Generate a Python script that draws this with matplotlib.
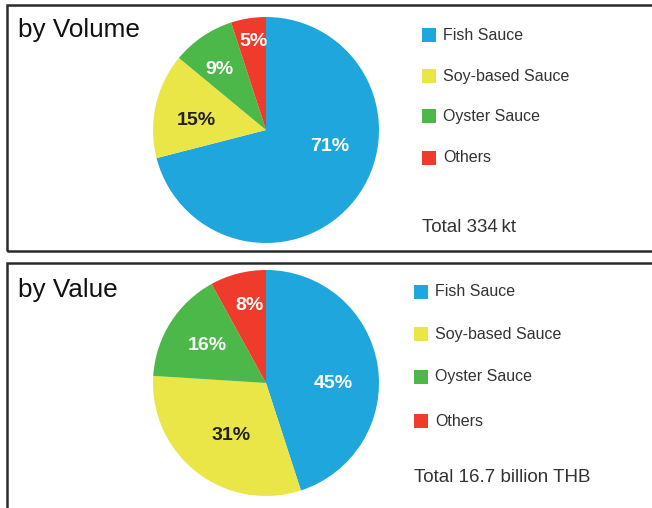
import matplotlib.pyplot as plt
from matplotlib.patches import Rectangle

categories = ["Fish Sauce", "Soy-based Sauce", "Oyster Sauce", "Others"]
volume_share = [71, 15, 9, 5]
value_share = [45, 31, 16, 8]
volume_title = "by Volume"
value_title = "by Value"
volume_total = "Total 334\u2009kt"
value_total = "Total 16.7 billion THB"

colors = ["#1fa7dd", "#ebe648", "#4cb84a", "#ee3b2c"]
label_colors = ["white", "#222222", "white", "white"]

W, H = 652, 508
R = 113  # pie radius in px

plt.rcParams['font.family'] = ['Liberation Sans', 'DejaVu Sans']

fig = plt.figure(figsize=(W / 100, H / 100), dpi=100)


def fx(px):
    return px / W


def fy(py):
    return 1 - py / H


def panel(box_top, box_bottom, title, title_y, shares, total, cx, cy,
          label_pos, leg_x, leg_rows, total_y):
    # frame of the panel (open on the right / bottom edges of the image)
    fig.add_artist(Rectangle((fx(7), fy(box_bottom)), fx(700),
                             (box_bottom - box_top) / H,
                             transform=fig.transFigure, fill=False,
                             lw=1.8, ec="#2a2a2a"))
    fig.text(fx(18), fy(title_y), title, fontsize=18.8, color="#111111",
             va="center", ha="left")

    ax = fig.add_axes([fx(cx - 1.1 * R), fy(cy + 1.1 * R),
                       2.2 * R / W, 2.2 * R / H])
    ax.pie(shares, colors=colors, startangle=90, counterclock=False,
           radius=1, wedgeprops=dict(linewidth=0))
    ax.set_xlim(-1.1, 1.1)
    ax.set_ylim(-1.1, 1.1)
    ax.axis("off")
    for v, (dx, dy), c in zip(shares, label_pos, label_colors):
        ax.text(dx, dy, f"{v}%", ha="center", va="center", color=c,
                fontsize=14, fontweight="bold")

    for cat, col, ry in zip(categories, colors, leg_rows):
        fig.add_artist(Rectangle((fx(leg_x), fy(ry + 7)), 14 / W, 14 / H,
                                 transform=fig.transFigure, fc=col, ec="none"))
        fig.text(fx(leg_x + 21), fy(ry), cat, fontsize=11.5, color="#333333",
                 va="center", ha="left")
    fig.text(fx(leg_x), fy(total_y), total, fontsize=13.5, color="#333333",
             va="center", ha="left")


panel(5, 251, volume_title, 30, volume_share, volume_total, 266, 130,
      [(0.566, -0.15), (-0.62, 0.088), (-0.416, 0.531), (-0.115, 0.779)],
      422, [35, 76, 116, 158], 227)

panel(263, 540, value_title, 290, value_share, value_total, 266, 383,
      [(0.593, 0.0), (-0.31, -0.469), (-0.522, 0.336), (-0.15, 0.69)],
      414, [292, 334, 377, 421], 478)

fig.savefig("out.png", dpi=100)
